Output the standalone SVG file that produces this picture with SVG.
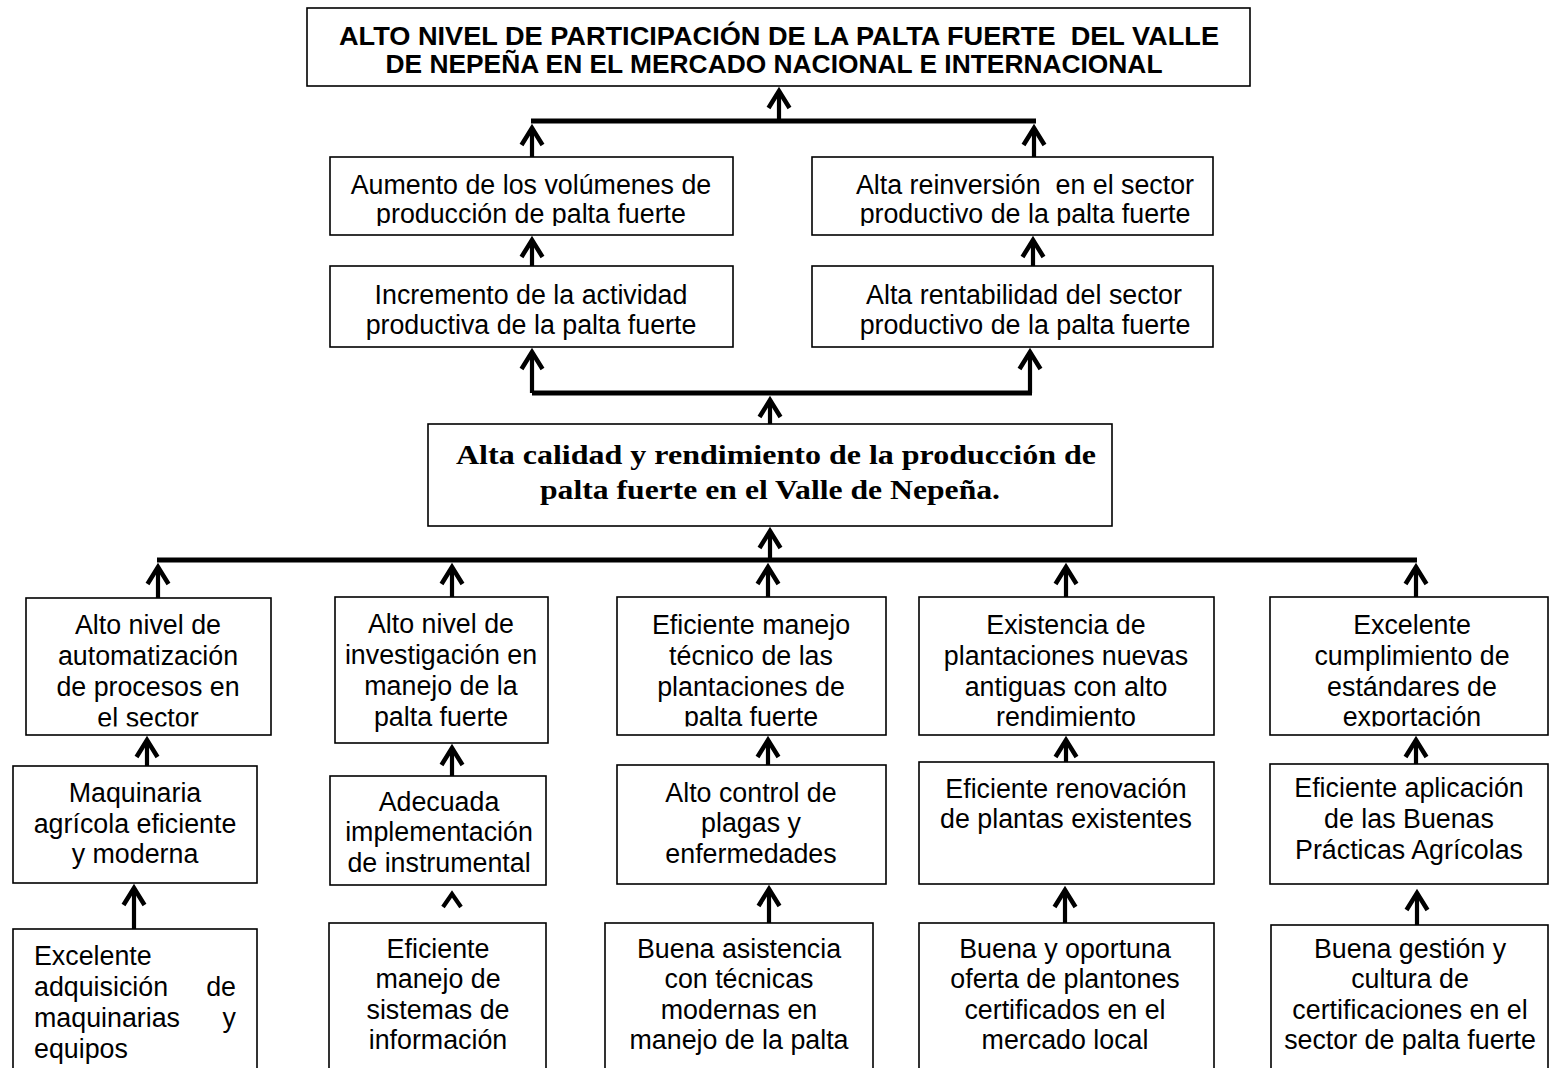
<svg xmlns="http://www.w3.org/2000/svg" width="1550" height="1068" viewBox="0 0 1550 1068">
<style>
.box{fill:#fff;stroke:#000;stroke-width:1.6}
.t{font-family:"Liberation Sans",Arial,sans-serif;font-size:26.8px;text-anchor:middle;fill:#000}
.tl{text-anchor:start}
.title{font-weight:bold;font-size:26.5px}
.serif{font-family:"Liberation Serif","Times New Roman",serif;font-weight:bold;font-size:27px;text-anchor:middle;fill:#000}
.conn{stroke:#000;stroke-width:4.2;fill:none}
.arr{marker-end:url(#ah)}
.bar{stroke-width:5}
</style>
<defs>
<marker id="ah" markerUnits="userSpaceOnUse" viewBox="-20 -13 27 26" refX="0" refY="0" markerWidth="27" markerHeight="26" orient="auto">
<path d="M-17,-10.5 L0,0 L-17,10.5" fill="none" stroke="#000" stroke-width="4.5" stroke-linejoin="miter"/>
</marker>
<clipPath id="cA" clipPathUnits="userSpaceOnUse"><rect x="0" y="0" width="1550" height="226"/></clipPath>
<clipPath id="cC" clipPathUnits="userSpaceOnUse"><rect x="0" y="0" width="1550" height="726.5"/></clipPath>
</defs>

<g id="connectors">
<path class="conn arr" d="M779,121 V91"/>
<path class="conn bar" d="M531,121 H1036"/>
<path class="conn arr" d="M532,157 V128"/>
<path class="conn arr" d="M1034,157 V128"/>
<path class="conn arr" d="M532,266 V240"/>
<path class="conn arr" d="M1033,266 V240"/>
<path class="conn bar" d="M532,393 H1032"/>
<path class="conn arr" d="M532,393 V352"/>
<path class="conn arr" d="M1030,393 V352"/>
<path class="conn arr" d="M770,424 V400"/>
<path class="conn bar" d="M157,560 H1417"/>
<path class="conn arr" d="M770,560 V531"/>
<path class="conn arr" d="M158,598 V567"/>
<path class="conn arr" d="M452,597 V567"/>
<path class="conn arr" d="M768,597 V567"/>
<path class="conn arr" d="M1066,597 V567"/>
<path class="conn arr" d="M1416,597 V567"/>
<path class="conn arr" d="M147,766 V740"/>
<path class="conn arr" d="M452,776 V748"/>
<path class="conn arr" d="M768,765 V740"/>
<path class="conn arr" d="M1066,762 V740"/>
<path class="conn arr" d="M1416,764 V740"/>
<path class="conn arr" d="M134,929 V888"/>
<path class="conn" d="M443,907 L452,894 L461,907" stroke-width="5"/>
<path class="conn arr" d="M769,923 V889"/>
<path class="conn arr" d="M1065,923 V890"/>
<path class="conn arr" d="M1417,925 V893"/>
</g>

<g id="n-title">
<rect class="box" x="307" y="8" width="943" height="78"/>
<text class="t title" x="779" y="45" textLength="880" lengthAdjust="spacingAndGlyphs" xml:space="preserve">ALTO NIVEL DE PARTICIPACIÓN DE LA PALTA FUERTE  DEL VALLE</text>
<text class="t title" x="774" y="73" textLength="777" lengthAdjust="spacingAndGlyphs">DE NEPEÑA EN EL MERCADO NACIONAL E INTERNACIONAL</text>
</g>

<g id="n-a1">
<rect class="box" x="330" y="157" width="403" height="78"/>
<text class="t" x="531" y="194">Aumento de los volúmenes de</text>
<text class="t" x="531" y="223" clip-path="url(#cA)">producción de palta fuerte</text>
</g>
<g id="n-b1">
<rect class="box" x="812" y="157" width="401" height="78"/>
<text class="t" x="1025" y="194" xml:space="preserve">Alta reinversión  en el sector</text>
<text class="t" x="1025" y="223" clip-path="url(#cA)">productivo de la palta fuerte</text>
</g>
<g id="n-a2">
<rect class="box" x="330" y="266" width="403" height="81"/>
<text class="t" x="531" y="304">Incremento de la actividad</text>
<text class="t" x="531" y="334">productiva de la palta fuerte</text>
</g>
<g id="n-b2">
<rect class="box" x="812" y="266" width="401" height="81"/>
<text class="t" x="1024" y="304">Alta rentabilidad del sector</text>
<text class="t" x="1025" y="334">productivo de la palta fuerte</text>
</g>

<g id="n-center">
<rect class="box" x="428" y="424" width="684" height="102"/>
<text class="serif" x="776" y="464" textLength="640" lengthAdjust="spacingAndGlyphs">Alta calidad y rendimiento de la producción de</text>
<text class="serif" x="770" y="499" textLength="460" lengthAdjust="spacingAndGlyphs">palta fuerte en el Valle de Nepeña.</text>
</g>

<g id="n-c1">
<rect class="box" x="26" y="598" width="245" height="137"/>
<text class="t" x="148" y="634">Alto nivel de</text>
<text class="t" x="148" y="665">automatización</text>
<text class="t" x="148" y="696">de procesos en</text>
<text class="t" x="148" y="727" clip-path="url(#cC)">el sector</text>
</g>
<g id="n-c2">
<rect class="box" x="335" y="597" width="213" height="146"/>
<text class="t" x="441" y="633">Alto nivel de</text>
<text class="t" x="441" y="664">investigación en</text>
<text class="t" x="441" y="695">manejo de la</text>
<text class="t" x="441" y="726">palta fuerte</text>
</g>
<g id="n-c3">
<rect class="box" x="617" y="597" width="269" height="138"/>
<text class="t" x="751" y="634">Eficiente manejo</text>
<text class="t" x="751" y="665">técnico de las</text>
<text class="t" x="751" y="696">plantaciones de</text>
<text class="t" x="751" y="726" clip-path="url(#cC)">palta fuerte</text>
</g>
<g id="n-c4">
<rect class="box" x="919" y="597" width="295" height="138"/>
<text class="t" x="1066" y="634">Existencia de</text>
<text class="t" x="1066" y="665">plantaciones nuevas</text>
<text class="t" x="1066" y="696">antiguas con alto</text>
<text class="t" x="1066" y="726">rendimiento</text>
</g>
<g id="n-c5">
<rect class="box" x="1270" y="597" width="278" height="138"/>
<text class="t" x="1412" y="634">Excelente</text>
<text class="t" x="1412" y="665">cumplimiento de</text>
<text class="t" x="1412" y="696">estándares de</text>
<text class="t" x="1412" y="726" clip-path="url(#cC)">exportación</text>
</g>

<g id="n-d1">
<rect class="box" x="13" y="766" width="244" height="117"/>
<text class="t" x="135" y="802">Maquinaria</text>
<text class="t" x="135" y="833">agrícola eficiente</text>
<text class="t" x="135" y="863">y moderna</text>
</g>
<g id="n-d2">
<rect class="box" x="330" y="776" width="216" height="109"/>
<text class="t" x="439" y="811">Adecuada</text>
<text class="t" x="439" y="841">implementación</text>
<text class="t" x="439" y="872">de instrumental</text>
</g>
<g id="n-d3">
<rect class="box" x="617" y="765" width="269" height="119"/>
<text class="t" x="751" y="802">Alto control de</text>
<text class="t" x="751" y="832">plagas y</text>
<text class="t" x="751" y="863">enfermedades</text>
</g>
<g id="n-d4">
<rect class="box" x="919" y="762" width="295" height="122"/>
<text class="t" x="1066" y="798">Eficiente renovación</text>
<text class="t" x="1066" y="828">de plantas existentes</text>
</g>
<g id="n-d5">
<rect class="box" x="1270" y="764" width="278" height="120"/>
<text class="t" x="1409" y="797">Eficiente aplicación</text>
<text class="t" x="1409" y="828">de las Buenas</text>
<text class="t" x="1409" y="859">Prácticas Agrícolas</text>
</g>

<g id="n-e1">
<rect class="box" x="13" y="929" width="244" height="150"/>
<text class="t tl" x="34" y="965">Excelente</text>
<text class="t tl" y="996"><tspan x="34">adquisición</tspan><tspan x="236" text-anchor="end">de</tspan></text>
<text class="t tl" y="1027"><tspan x="34">maquinarias</tspan><tspan x="236" text-anchor="end">y</tspan></text>
<text class="t tl" x="34" y="1058">equipos</text>
</g>
<g id="n-e2">
<rect class="box" x="329" y="923" width="217" height="150"/>
<text class="t" x="438" y="958">Eficiente</text>
<text class="t" x="438" y="988">manejo de</text>
<text class="t" x="438" y="1019">sistemas de</text>
<text class="t" x="438" y="1049">información</text>
</g>
<g id="n-e3">
<rect class="box" x="605" y="923" width="268" height="150"/>
<text class="t" x="739" y="958">Buena asistencia</text>
<text class="t" x="739" y="988">con técnicas</text>
<text class="t" x="739" y="1019">modernas en</text>
<text class="t" x="739" y="1049">manejo de la palta</text>
</g>
<g id="n-e4">
<rect class="box" x="919" y="923" width="295" height="150"/>
<text class="t" x="1065" y="958">Buena y oportuna</text>
<text class="t" x="1065" y="988">oferta de plantones</text>
<text class="t" x="1065" y="1019">certificados en el</text>
<text class="t" x="1065" y="1049">mercado local</text>
</g>
<g id="n-e5">
<rect class="box" x="1271" y="925" width="277" height="150"/>
<text class="t" x="1410" y="958">Buena gestión y</text>
<text class="t" x="1410" y="988">cultura de</text>
<text class="t" x="1410" y="1019">certificaciones en el</text>
<text class="t" x="1410" y="1049">sector de palta fuerte</text>
</g>
</svg>
